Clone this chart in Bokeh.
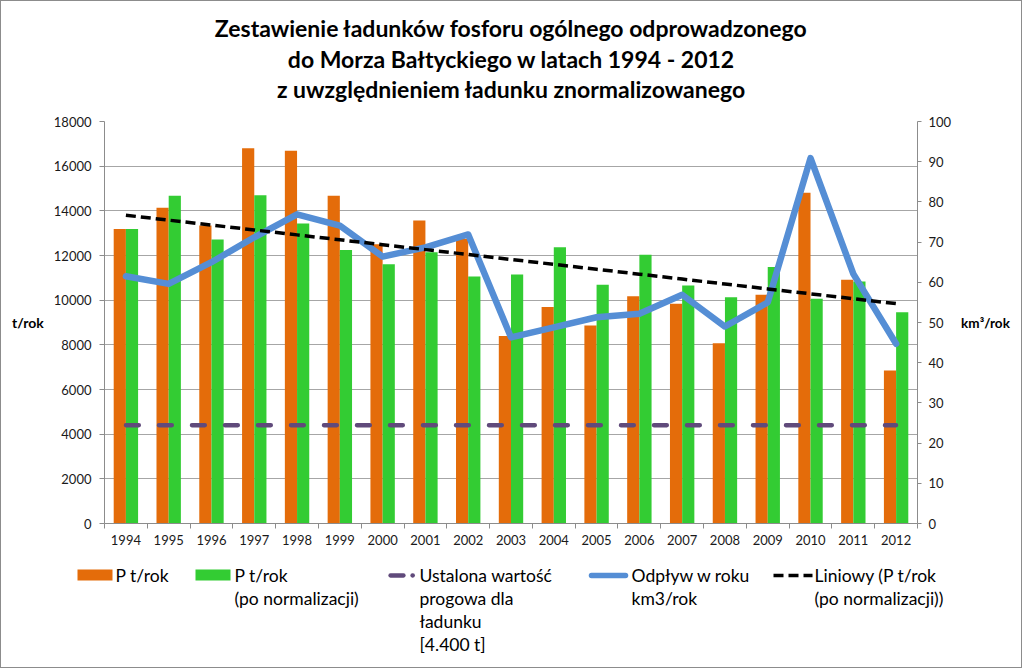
import numpy as np
from bokeh.plotting import figure
from bokeh.models import Range1d, LinearAxis, FixedTicker, ColumnDataSource
from bokeh.layouts import column, row
from bokeh.transform import dodge
from bokeh.embed import file_html
from bokeh.resources import INLINE
from bokeh.core.properties import value

# ---------------- data ----------------
years = [1994, 1995, 1996, 1997, 1998, 1999, 2000, 2001, 2002, 2003,
         2004, 2005, 2006, 2007, 2008, 2009, 2010, 2011, 2012]
year_labels = [str(y) for y in years]
p_load = [13190, 14140, 13340, 16800, 16690, 14670, 12500, 13570, 12750, 8400,
          9690, 8870, 10170, 9840, 8070, 10240, 14810, 10910, 6850]
p_norm = [13190, 14670, 12720, 14700, 13430, 12250, 11610, 12150, 11060, 11150,
          12370, 10690, 12030, 10660, 10130, 11480, 10060, 10840, 9460]
outflow = [61.5, 59.6, 65.0, 71.2, 76.9, 74.1, 66.4, 68.7, 71.9, 46.3,
           48.8, 51.3, 52.2, 56.9, 49.0, 55.0, 90.9, 62.1, 44.7]
threshold = [4400] * len(years)
left_ticks = [0, 2000, 4000, 6000, 8000, 10000, 12000, 14000, 16000, 18000]
right_ticks = [0, 10, 20, 30, 40, 50, 60, 70, 80, 90, 100]

title_lines = ["Zestawienie ładunków fosforu ogólnego odprowadzonego",
               "do Morza Bałtyckiego w latach 1994 - 2012",
               "z uwzględnieniem ładunku znormalizowanego"]

ORANGE = "#E46C0A"
GREEN = "#33CC33"
BLUE = "#558ED5"
PURPLE = "#604A7B"
BLACK = "#000000"
GRID = "#A6A6A6"
AXIS = "#8C8C8C"
FONT = "Lato"
W = 1020

# linear trend of normalized load (Excel "Liniowy")
coef = np.polyfit(years, p_norm, 1)
trend = list(np.polyval(coef, years))

src = ColumnDataSource(dict(year=years, p_load=p_load, p_norm=p_norm,
                            outflow=outflow, threshold=threshold, trend=trend))

# ---------------- title figure ----------------
TH = 104
t = figure(width=W, height=TH, x_range=Range1d(0, W), y_range=Range1d(TH, 0),
           min_border=0, toolbar_location=None, output_backend="svg",
           x_axis_location=None, y_axis_location=None)
t.grid.visible = False
t.outline_line_color = None
t.text(x=[510, 510, 510], y=[26, 57, 87], text=title_lines,
       text_font=value(FONT), text_font_style="bold", text_font_size="23px",
       text_align="center", text_baseline="middle", text_color="#000000")

# ---------------- main chart ----------------
PH = 450
p = figure(width=W, height=PH, x_range=Range1d(1993.5, 2012.5),
           y_range=Range1d(0, 18000), toolbar_location=None,
           output_backend="svg", min_border_left=103, min_border_right=104,
           min_border_top=16, min_border_bottom=32)
p.extra_y_ranges = {"flow": Range1d(0, 100)}
p.outline_line_color = None
p.xgrid.visible = False
p.ygrid.ticker = FixedTicker(ticks=left_ticks)
p.ygrid.grid_line_color = GRID

p.vbar(x=dodge("year", -0.1425), width=0.285, top="p_load", source=src,
       fill_color=ORANGE, line_color=None)
p.vbar(x=dodge("year", 0.1425), width=0.285, top="p_norm", source=src,
       fill_color=GREEN, line_color=None)
p.line(x="year", y="threshold", source=src, line_color=PURPLE, line_width=4.3,
       line_dash="13 20", line_cap="round")
p.line(x="year", y="outflow", source=src, y_range_name="flow",
       line_color=BLUE, line_width=6.5, line_join="round", line_cap="round")
p.line(x="year", y="trend", source=src, line_color=BLACK, line_width=3.5,
       line_dash="10 5")

# x axis
xa = p.xaxis[0]
xa.ticker = FixedTicker(ticks=years,
                        minor_ticks=[y - 0.5 for y in years] + [years[-1] + 0.5])
xa.major_label_overrides = {y: l for y, l in zip(years, year_labels)}
xa.major_tick_line_color = None
xa.major_tick_out = 0
xa.major_tick_in = 0
xa.minor_tick_line_color = AXIS
xa.minor_tick_out = 5
xa.minor_tick_in = 0
xa.axis_line_color = AXIS
xa.major_label_standoff = 6
xa.major_label_text_font = FONT
xa.major_label_text_font_size = "13px"
xa.major_label_text_color = "#1a1a1a"

# left axis
ya = p.yaxis[0]
ya.ticker = FixedTicker(ticks=left_ticks)
ya.axis_line_color = AXIS
ya.major_tick_line_color = AXIS
ya.major_tick_out = 5
ya.major_tick_in = 0
ya.minor_tick_line_color = None
ya.major_label_standoff = 8
ya.major_label_text_font = FONT
ya.major_label_text_font_size = "13px"
ya.major_label_text_color = "#1a1a1a"
ya.axis_label = "t/rok"
ya.axis_label_orientation = "horizontal"
ya.axis_label_standoff = 7
ya.axis_label_text_font = FONT
ya.axis_label_text_font_style = "bold"
ya.axis_label_text_font_size = "14px"
ya.axis_label_text_color = "#000000"

# right axis
ra = LinearAxis(y_range_name="flow", ticker=FixedTicker(ticks=right_ticks))
ra.axis_line_color = AXIS
ra.major_tick_line_color = AXIS
ra.major_tick_out = 4
ra.major_tick_in = 0
ra.minor_tick_line_color = None
ra.major_label_standoff = 7
ra.major_label_text_font = FONT
ra.major_label_text_font_size = "13px"
ra.major_label_text_color = "#1a1a1a"
ra.axis_label = "km³/rok"
ra.axis_label_orientation = "horizontal"
ra.axis_label_standoff = 7
ra.axis_label_text_font = FONT
ra.axis_label_text_font_style = "bold"
ra.axis_label_text_font_size = "13.5px"
ra.axis_label_text_color = "#000000"
p.add_layout(ra, "right")

# ---------------- legend figure ----------------
LH = 112
lg = figure(width=W, height=LH, x_range=Range1d(0, W), y_range=Range1d(LH, 0),
            min_border=0, toolbar_location=None, output_backend="svg",
            x_axis_location=None, y_axis_location=None)
lg.grid.visible = False
lg.outline_line_color = None

legend_labels = [
    ["P t/rok"],
    ["P t/rok", "(po normalizacji)"],
    ["Ustalona wartość", "progowa dla", "ładunku", "[4.400 t]"],
    ["Odpływ w roku", "km3/rok"],
    ["Liniowy (P t/rok", "(po normalizacji))"],
]
text_x = [114, 233, 418, 630, 813]
row_y = [20, 43, 66, 89]

lg.quad(left=[76, 194], right=[111, 229], top=[14, 14], bottom=[25, 25],
        fill_color=[ORANGE, GREEN], line_color=None)
lg.line(x=[389, 402], y=[20, 20], line_color=PURPLE, line_width=4.3, line_cap="round")
lg.line(x=[411, 411.3], y=[20, 20], line_color=PURPLE, line_width=4.3, line_cap="round")
lg.line(x=[590, 624], y=[20, 20], line_color=BLUE, line_width=5.5, line_cap="round")
lg.line(x=[772, 811], y=[20, 20], line_color=BLACK, line_width=3.5, line_dash="10 5")

xs, ys, ts = [], [], []
for lx, lines in zip(text_x, legend_labels):
    for i, s in enumerate(lines):
        xs.append(lx)
        ys.append(row_y[i])
        ts.append(s)
lg.text(x=xs, y=ys, text=ts, text_font=value(FONT), text_font_size="17.5px",
        text_align="left", text_baseline="middle", text_color="#000000")

# wrap each figure so that the column does not align the plot frames
layout = column(row(t), row(p), row(lg), styles={"border": "1px solid #8C8C8C"})

open("out.html", "w").write(file_html(layout, INLINE))
